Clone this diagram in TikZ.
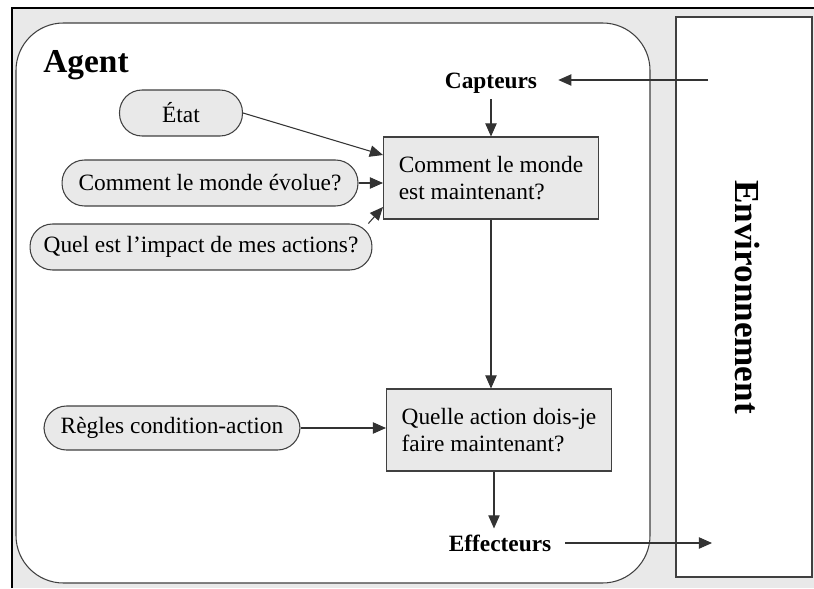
\documentclass[tikz,border=0pt]{standalone}
\usepackage{fontspec}
\setmainfont{Liberation Serif}
\usetikzlibrary{arrows.meta}

\begin{document}
\begin{tikzpicture}[x=0.02cm, y=-0.02cm,
    every node/.style={font=\fontsize{13.3}{15.5}\selectfont},
    pill/.style={draw=black!75, fill=gray!17, line width=0.6pt, rounded corners=0.45cm, minimum height=0.92cm},
    question/.style={draw=black!75, fill=gray!17, line width=0.6pt, minimum height=1.64cm, align=left},
    flow/.style={draw=black!80, line width=0.6pt, -{Triangle[length=7.5pt, width=6.5pt]}}]
    \useasboundingbox (0,0) rectangle (814,588);

    % Background frame
    \fill[gray!17] (12,8) rectangle (814,588);
    \draw[line width=1.6pt] (12,588) -- (12,8) -- (814,8);

    % Agent
    \draw[black!75, line width=0.6pt, fill=white, rounded corners=0.95cm] (16,23) rectangle (650,583);
    \node[font=\bfseries\fontsize{19}{23}\selectfont, anchor=west, inner sep=0pt] (agentlbl) at (43,65) {Agent};
    \node[pill, minimum width=2.46cm] (etat) at (181,113) {État};
    \node[pill, minimum width=5.92cm] (evolue) at (210,183) {Comment le monde évolue?};
    \node[pill, minimum width=6.84cm] (impact) at (201,247) {Quel est l'impact de mes actions?};
    \node[pill, minimum width=5.12cm, minimum height=0.88cm] (regles) at (172,428) {Règles condition-action};
    \node[question, minimum width=4.3cm] (monde) at (491,178) {Comment le monde\\est maintenant?};
    \node[question, minimum width=4.5cm] (action) at (499,430) {Quelle action dois-je\\faire maintenant?};
    \node[font=\bfseries\fontsize{13.3}{15.5}\selectfont] (capteurs) at (491,83) {Capteurs};
    \node[font=\bfseries\fontsize{13.3}{15.5}\selectfont] (effecteurs) at (500,543) {Effecteurs};

    % Environment
    \draw[black!75, line width=0.6pt, fill=white] (676,17) rectangle (812,577);
    \node[font=\bfseries\fontsize{20}{24}\selectfont, rotate=-90] (envlbl) at (748,297) {Environnement};
    \coordinate (envin) at (708,80);
    \coordinate (envout) at (712,543);

    % Arrows
    \draw[flow, shorten >=0.3cm] (envin) -- (envin -| capteurs.east);
    \draw[flow] (capteurs) -- (monde);
    \draw[flow] (etat.east) -- ([yshift=0.46cm]monde.west);
    \draw[flow] (evolue) -- (evolue -| monde.west);
    \draw[flow] (impact.8) -- ([yshift=-0.58cm]monde.west);
    \draw[flow] (monde) -- (monde |- action.north);
    \draw[flow] (regles) -- (regles -| action.west);
    \draw[flow] ([xshift=-0.1cm]action.south) -- ([xshift=-0.1cm]action.south |- effecteurs.north);
    \draw[flow, shorten <=0.16cm] (effecteurs.east) -- (envout);
\end{tikzpicture}
\end{document}
